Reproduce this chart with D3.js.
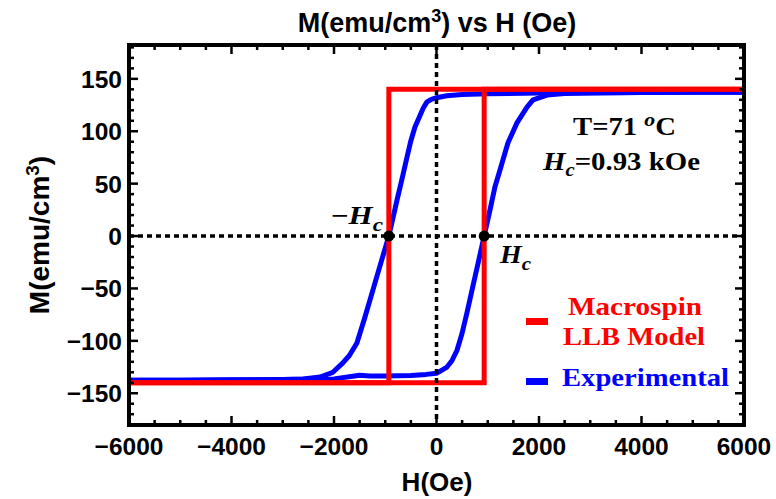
<!DOCTYPE html>
<html><head><meta charset="utf-8">
<script src="https://cdn.jsdelivr.net/npm/d3@7"></script>
<style>body{margin:0;background:#fff} svg{display:block}</style>
</head><body>
<svg id="chart" width="776" height="499"></svg>
<script>
// Axis ticks
const xTicks = [-6000, -4000, -2000, 0, 2000, 4000, 6000];
const yTicks = [-150, -100, -50, 0, 50, 100, 150];

// Macrospin LLB model: square loop, H (Oe) vs M (emu/cm^3)
const modelDescending = [[6000, 140], [-930, 140], [-930, -140], [-6000, -140]];
const modelAscending = [[-6000, -140], [930, -140], [930, 140], [6000, 140]];

// Experimental loop, field sweeping down then up
const expDescending = [
  [6000, 137.3], [5000, 137.2], [4000, 137], [3000, 136.8], [2000, 136.5], [1000, 135.8],
  [500, 135], [200, 133.8], [0, 132], [-100, 130.5], [-186, 128], [-260, 122],
  [-330, 114], [-420, 104], [-500, 91], [-577, 75], [-680, 53], [-772, 34],
  [-850, 17], [-930, 0], [-1100, -28], [-1250, -53], [-1400, -78], [-1553, -102],
  [-1700, -114], [-1827, -121], [-2022, -130], [-2273, -134.5], [-2600, -136.5],
  [-3000, -137], [-4000, -137.3], [-5000, -137.5], [-6000, -137.5]
];
const expAscending = [
  [-6000, -137.5], [-5000, -137.5], [-4000, -137.2], [-3000, -136.8], [-2000, -136.3],
  [-1600, -133.5], [-1500, -132.8], [-1300, -133.5], [-1000, -133.5], [-500, -133],
  [-200, -132], [0, -131], [205, -125], [300, -119], [400, -109], [498, -93],
  [600, -72], [700, -50], [820, -24], [930, 0], [1044, 25], [1141, 47], [1239, 63],
  [1395, 89], [1570, 108], [1766, 123], [1883, 130], [2156, 134.5], [2500, 136],
  [3000, 136.5], [4000, 137], [5000, 137.2], [6000, 137.3]
];

// Coercive field points on the M = 0 line
const coercivePoints = [[-930, 0], [930, 0]];

const svg = d3.select("#chart");
const frame = {left: 129, right: 744, top: 45, bottom: 425};

const x = d3.scaleLinear().domain([-6000, 6000]).range([frame.left, frame.right]);
const y = d3.scaleLinear().domain([-180.3, 182.3]).range([frame.bottom, frame.top]);

const sans = "'Liberation Sans', Arial, sans-serif";
const serif = "'Liberation Serif', 'Times New Roman', serif";

svg.append("defs").append("clipPath").attr("id", "plotClip")
  .append("rect")
  .attr("x", frame.left).attr("y", frame.top)
  .attr("width", frame.right - frame.left).attr("height", frame.bottom - frame.top);

const line = d3.line().x(d => x(d[0])).y(d => y(d[1]));

const plot = svg.append("g").attr("clip-path", "url(#plotClip)");

// Experimental loop (blue)
[expDescending, expAscending].forEach(branch => {
  plot.append("path").datum(branch)
    .attr("d", line)
    .attr("fill", "none")
    .attr("stroke", "#0000ff")
    .attr("stroke-width", 5)
    .attr("stroke-linejoin", "round")
    .attr("stroke-linecap", "round");
});

// Model loop (red)
[modelDescending, modelAscending].forEach(branch => {
  plot.append("path").datum(branch)
    .attr("d", line)
    .attr("fill", "none")
    .attr("stroke", "#ff0000")
    .attr("stroke-width", 5)
    .attr("stroke-linejoin", "miter");
});

// Dotted zero axes
plot.append("line")
  .attr("x1", x(-6000)).attr("x2", x(6000)).attr("y1", y(0)).attr("y2", y(0))
  .attr("stroke", "#000").attr("stroke-width", 3.5).attr("stroke-dasharray", "5,4");
plot.append("line")
  .attr("x1", x(0)).attr("x2", x(0)).attr("y1", y(182.3)).attr("y2", y(-180.3))
  .attr("stroke", "#000").attr("stroke-width", 3.5).attr("stroke-dasharray", "5,4");

// Coercive points
svg.selectAll("circle.hc").data(coercivePoints).join("circle")
  .attr("class", "hc")
  .attr("cx", d => x(d[0])).attr("cy", d => y(d[1]))
  .attr("r", 5.5).attr("fill", "#000");

// Frame ticks (inward on all four sides)
const tickG = svg.append("g").attr("stroke", "#000").attr("stroke-width", 2.5);
const xMinor = d3.range(-6000, 6001, 500).filter(v => v % 2000 !== 0);
const yMajor = d3.range(-150, 151, 50);
const yMinor = d3.range(-180, 181, 10).filter(v => v % 50 !== 0);
const majorLen = 9, minorLen = 5;
xTicks.concat(xMinor).forEach(v => {
  const len = xTicks.includes(v) ? majorLen : minorLen;
  tickG.append("line").attr("x1", x(v)).attr("x2", x(v))
    .attr("y1", frame.bottom).attr("y2", frame.bottom - len);
  tickG.append("line").attr("x1", x(v)).attr("x2", x(v))
    .attr("y1", frame.top).attr("y2", frame.top + len);
});
yMajor.concat(yMinor).forEach(v => {
  const len = yMajor.includes(v) ? majorLen : minorLen;
  tickG.append("line").attr("y1", y(v)).attr("y2", y(v))
    .attr("x1", frame.left).attr("x2", frame.left + len);
  tickG.append("line").attr("y1", y(v)).attr("y2", y(v))
    .attr("x1", frame.right).attr("x2", frame.right - len);
});

// Frame
svg.append("rect")
  .attr("x", frame.left).attr("y", frame.top)
  .attr("width", frame.right - frame.left).attr("height", frame.bottom - frame.top)
  .attr("fill", "none").attr("stroke", "#000").attr("stroke-width", 4);

const fmt = v => (v < 0 ? "\u2212" + Math.abs(v) : String(v));

// Tick labels
svg.append("g").selectAll("text").data(xTicks).join("text")
  .attr("x", d => x(d)).attr("y", 455)
  .attr("text-anchor", "middle")
  .attr("font-family", sans).attr("font-weight", "bold").attr("font-size", 24.5)
  .text(fmt);
svg.append("g").selectAll("text").data(yTicks).join("text")
  .attr("x", 122).attr("y", d => y(d) + 9)
  .attr("text-anchor", "end")
  .attr("font-family", sans).attr("font-weight", "bold").attr("font-size", 24.5)
  .text(fmt);

// Title
const title = svg.append("text")
  .attr("x", 437).attr("y", 32).attr("text-anchor", "middle")
  .attr("font-family", sans).attr("font-weight", "bold").attr("font-size", 27);
title.append("tspan").text("M(emu/cm");
title.append("tspan").attr("dy", -10).attr("font-size", 18).text("3");
title.append("tspan").attr("dy", 10).text(") vs H (Oe)");

// Axis labels
svg.append("text")
  .attr("x", 437).attr("y", 491).attr("text-anchor", "middle")
  .attr("font-family", sans).attr("font-weight", "bold").attr("font-size", 26)
  .text("H(Oe)");
const yLab = svg.append("text")
  .attr("transform", "translate(49,235) rotate(-90)")
  .attr("text-anchor", "middle")
  .attr("font-family", sans).attr("font-weight", "bold").attr("font-size", 28);
yLab.append("tspan").text("M(emu/cm");
yLab.append("tspan").attr("dy", -10).attr("font-size", 19).text("3");
yLab.append("tspan").attr("dy", 10).text(")");

// Annotations
function hcLabel(sel, prefix) {
  if (prefix) sel.append("tspan").attr("font-style", "normal").text(prefix);
  sel.append("tspan").attr("font-style", "italic").text("H");
  sel.append("tspan").attr("font-style", "italic").attr("dy", 7)
    .attr("font-size", "0.75em").text("c");
}
const negHc = svg.append("text").attr("x", 331).attr("y", 224)
  .attr("font-family", serif).attr("font-weight", "bold").attr("font-size", 25)
  .attr("textLength", 52).attr("lengthAdjust", "spacingAndGlyphs");
hcLabel(negHc, "\u2212");
const posHc = svg.append("text").attr("x", 500).attr("y", 263)
  .attr("font-family", serif).attr("font-weight", "bold").attr("font-size", 25)
  .attr("textLength", 31).attr("lengthAdjust", "spacingAndGlyphs");
hcLabel(posHc, null);

const tLab = svg.append("text").attr("x", 573).attr("y", 135)
  .attr("font-family", serif).attr("font-weight", "bold").attr("font-size", 25)
  .attr("textLength", 103).attr("lengthAdjust", "spacingAndGlyphs");
tLab.append("tspan").text("T=71 ");
tLab.append("tspan").attr("dy", -9).attr("font-style", "italic").attr("font-size", 19).text("o");
tLab.append("tspan").attr("dy", 9).text("C");

const hcVal = svg.append("text").attr("x", 543).attr("y", 170)
  .attr("font-family", serif).attr("font-weight", "bold").attr("font-size", 25)
  .attr("textLength", 157).attr("lengthAdjust", "spacingAndGlyphs");
hcVal.append("tspan").attr("font-style", "italic").text("H");
hcVal.append("tspan").attr("font-style", "italic").attr("dy", 6).attr("font-size", 18).text("c");
hcVal.append("tspan").attr("dy", -6).text("=0.93 kOe");

// Legend
const legend = [
  {lines: ["Macrospin", "LLB Model"], color: "#ff0000", markY: 321.5, textY: [315, 345], widths: [134, 142], xs: [568, 563]},
  {lines: ["Experimental"], color: "#0000ff", markY: 381.5, textY: [386], widths: [167], xs: [562]}
];
legend.forEach(item => {
  svg.append("line").attr("x1", 526).attr("x2", 548)
    .attr("y1", item.markY).attr("y2", item.markY)
    .attr("stroke", item.color).attr("stroke-width", 7);
  item.lines.forEach((t, i) => {
    svg.append("text").attr("x", item.xs[i]).attr("y", item.textY[i])
      .attr("font-family", serif).attr("font-weight", "bold").attr("font-size", 25)
      .attr("fill", item.color)
      .attr("textLength", item.widths[i]).attr("lengthAdjust", "spacingAndGlyphs")
      .text(t);
  });
});
</script>
</body></html>
